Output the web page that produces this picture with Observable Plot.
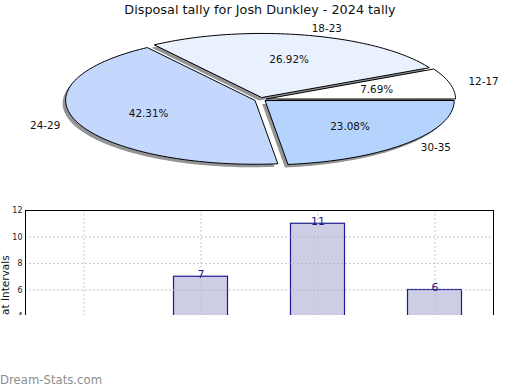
<!DOCTYPE html>
<html>
<head>
<meta charset="utf-8">
<script src="https://cdn.jsdelivr.net/npm/d3@7"></script>
<script src="https://cdn.jsdelivr.net/npm/@observablehq/plot@0.6"></script>
<style>
  html, body { margin: 0; padding: 0; background: #fff; }
  #root { position: relative; width: 520px; height: 390px; overflow: hidden; font-family: "DejaVu Sans", sans-serif; }
  #title { position: absolute; left: 0; top: 2px; width: 520px; text-align: center; font-size: 12.8px; line-height: 16px; color: #111; }
  #pie { position: absolute; left: 0; top: 0; }
  #bars { position: absolute; left: 0; top: 200px; width: 520px; height: 115px; overflow: hidden; }
  #mark { position: absolute; left: 0; top: 372px; font-size: 11.7px; line-height: 16px; color: #8e8e8e; }
</style>
</head>
<body>
<div id="root">
  <div id="pie"></div>
  <div id="title"></div>
  <div id="bars"></div>
  <div id="mark"></div>
</div>
<script>
// ---- data ----
const ages = ["12-17", "18-23", "24-29", "30-35"];
const counts = [2, 7, 11, 6];
const sliceColors = ["#ffffff", "#eaf1fe", "#c4d8fe", "#b4d4fe"];
const titleText = "Disposal tally for Josh Dunkley - 2024 tally";
const yLabel = "Games at Intervals";
const yTicks = [0, 2, 4, 6, 8, 10, 12];
const watermark = "Dream-Stats.com";

document.getElementById("title").textContent = titleText;
document.getElementById("mark").textContent = watermark;

// ---- pie geometry (unit circle, later squashed by the scales) ----
const total = d3.sum(counts);
const explode = 0.033;
let cum = 0;
const slices = ages.map((age, i) => {
  const a0 = cum / total * 2 * Math.PI;
  cum += counts[i];
  const a1 = cum / total * 2 * Math.PI;
  const mid = (a0 + a1) / 2;
  return {age, value: counts[i], a0, a1, mid,
    ox: explode * Math.cos(mid), oy: explode * Math.sin(mid),
    pct: counts[i] / total * 100};
});
const outline = slices.flatMap(s => {
  const pts = [{age: s.age, x: s.ox, y: s.oy}];
  const n = Math.max(8, Math.ceil((s.a1 - s.a0) / (2 * Math.PI) * 240));
  for (let k = 0; k <= n; k++) {
    const a = s.a0 + (s.a1 - s.a0) * k / n;
    pts.push({age: s.age, x: s.ox + Math.cos(a), y: s.oy + Math.sin(a)});
  }
  return pts;
});
const labDist = 1.1, pctDist = 0.6;
const lx = s => s.ox + labDist * Math.cos(s.mid);
const ly = s => s.oy + labDist * Math.sin(s.mid);

const pie = Plot.plot({
  width: 520, height: 200, margin: 0,
  style: {fontFamily: "DejaVu Sans, sans-serif", color: "#111", background: "transparent"},
  x: {domain: [-260 / 189, 260 / 189], axis: null},
  y: {domain: [-101 / 64, 99 / 64], axis: null},
  color: {domain: ages, range: sliceColors},
  marks: [
    Plot.line(outline, {x: "x", y: "y", z: "age", fill: "#2a2a2a", fillOpacity: 0.5, stroke: null, dx: -3, dy: 3, curve: "linear-closed"}),
    Plot.line(outline, {x: "x", y: "y", z: "age", fill: "age", stroke: "black", strokeWidth: 1, curve: "linear-closed"}),
    Plot.text(slices.filter(s => Math.cos(s.mid) >= 0), {x: lx, y: ly, text: "age", textAnchor: "start", fontSize: 10.4, fill: "#111"}),
    Plot.text(slices.filter(s => Math.cos(s.mid) < 0), {x: lx, y: ly, text: "age", textAnchor: "end", fontSize: 10.4, fill: "#111"}),
    Plot.text(slices, {x: s => s.ox + pctDist * Math.cos(s.mid), y: s => s.oy + pctDist * Math.sin(s.mid),
      text: s => s.pct.toFixed(2) + "%", fontSize: 10.4, fill: "#111"})
  ]
});
document.getElementById("pie").append(pie);

// ---- bar chart ----
const barData = ages.map((age, i) => ({age, count: counts[i]}));
const bars = Plot.plot({
  width: 520, height: 200,
  marginTop: 10, marginLeft: 25, marginRight: 27, marginBottom: 31,
  style: {fontFamily: "DejaVu Sans, sans-serif", color: "#222", background: "transparent"},
  x: {domain: ages, padding: 0, axis: null},
  y: {domain: [0, 12], axis: null},
  marks: [
    Plot.barY(barData, {x: "age", y: "count", fill: "#cdcde5", stroke: "#1c1c8c", strokeWidth: 1.2, insetLeft: 31.5, insetRight: 31.5}),
    Plot.ruleX(ages, {x: d => d, stroke: "#c4c4c4", strokeDasharray: "1.5,2.5", strokeWidth: 1.2}),
    Plot.ruleY(yTicks.filter(t => t > 0 && t < 12), {stroke: "#b4b4b4", strokeDasharray: "1.5,2.5", strokeWidth: 1.2}),
    Plot.text(barData, {x: "age", y: "count", text: d => String(d.count), lineAnchor: "bottom", dy: 1, fill: "#1c1c8c", fontSize: 11}),
    Plot.axisY(yTicks, {tickSize: 0, tickPadding: 3, fontSize: 8, label: null}),
    Plot.frame({stroke: "black", strokeWidth: 1}),
    Plot.text([yLabel], {frameAnchor: "left", textAnchor: "start", rotate: -90, dx: -20, dy: 65, fontSize: 10.5, fill: "#111", text: d => d})
  ]
});
document.getElementById("bars").append(bars);
</script>
</body>
</html>
